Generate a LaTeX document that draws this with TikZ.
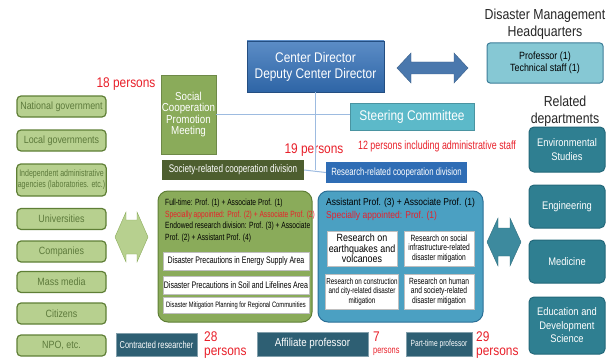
\documentclass[tikz,border=0pt]{standalone}
\usepackage{fontspec}
\setmainfont{Liberation Sans}[FakeStretch=0.85]
\newfontfamily\narrowfont{Liberation Sans}[FakeStretch=0.74]
\usepackage{tikz}
\definecolor{dirblue}{HTML}{3370B8}
\definecolor{lineblue}{HTML}{9DBBE0}
\definecolor{hqteal}{HTML}{86C8D4}
\definecolor{hqedge}{HTML}{3D7E99}
\definecolor{steerteal}{HTML}{5CB9C9}
\definecolor{deptteal}{HTML}{2F7F91}
\definecolor{deptedge}{HTML}{23687A}
\definecolor{olive}{HTML}{8AAB5A}
\definecolor{oliveedge}{HTML}{5F7F36}
\definecolor{darkolive}{HTML}{4D5E2F}
\definecolor{palegreen}{HTML}{B7D08F}
\definecolor{greytext}{HTML}{5D7A3C}
\definecolor{resblue}{HTML}{4BA0C2}
\definecolor{resedge}{HTML}{2B6F96}
\definecolor{divblue}{HTML}{2F6DB5}
\definecolor{botteal}{HTML}{2E5F73}
\definecolor{redtext}{HTML}{E8202A}
\definecolor{arrowblue}{HTML}{4A78AD}
\definecolor{arrowteal}{HTML}{3D8A9E}
\tikzset{
  font={\fontsize{9pt}{10}\selectfont}}

\begin{document}
\begin{tikzpicture}[x=1pt,y=1pt]
\tikzstyle{every node}+=[inner sep=1pt, align=center]
\tikzstyle{dirbox}=[top color=dirblue!80!white, bottom color=dirblue!90!black, draw=dirblue!70!black, text=white, minimum width=137, minimum height=51, font={\fontsize{14pt}{16}\selectfont}]
\tikzstyle{hqbox}=[fill=hqteal, draw=hqedge, line width=1pt, rounded corners=3, minimum width=116, minimum height=40, font={\fontsize{10.5pt}{12}\selectfont}]
\tikzstyle{titletxt}=[font={\fontsize{14.5pt}{17}\selectfont}, text=black!85]
\tikzstyle{deptbox}=[fill=deptteal, draw=deptedge, line width=1pt, rounded corners=5, text=white, minimum width=76, font={\fontsize{11pt}{13.5}\selectfont}]
\tikzstyle{steerbox}=[fill=steerteal, draw=steerteal!80!black, text=white, minimum width=124, minimum height=27, font={\fontsize{14pt}{16}\selectfont}]
\tikzstyle{meetbox}=[fill=olive, draw=olive!80!black, text=white, minimum width=51, minimum height=79, font={\fontsize{11.5pt}{11.5}\selectfont}]
\tikzstyle{socdivbox}=[fill=darkolive, text=white, minimum width=142, minimum height=20, font={\narrowfont\fontsize{11pt}{12}\selectfont}]
\tikzstyle{resdivbox}=[fill=divblue, text=white, minimum width=141, minimum height=21, font={\narrowfont\fontsize{10.5pt}{12}\selectfont}]
\tikzstyle{redtxt}=[text=redtext, font={\fontsize{14pt}{16}\selectfont}]
\tikzstyle{numtxt}=[text=redtext, anchor=west, inner sep=0pt]
\tikzstyle{orgbox}=[fill=palegreen, draw=oliveedge, line width=1.2pt, rounded corners=4, text=greytext, minimum width=89, minimum height=21, font={\fontsize{10.5pt}{12}\selectfont}]
\tikzstyle{greenarea}=[fill=olive, draw=oliveedge, line width=1pt, rounded corners=10, minimum width=154, minimum height=131]
\tikzstyle{bluearea}=[fill=resblue, draw=resedge, line width=1pt, rounded corners=10, minimum width=165, minimum height=131]
\tikzstyle{areabox}=[fill=white, draw=black!25, minimum width=146, minimum height=18, font={\narrowfont\fontsize{9.5pt}{11}\selectfont}]
\tikzstyle{resbox}=[fill=white, draw=black!25, minimum width=70, minimum height=35, font={\narrowfont\fontsize{9pt}{9.5}\selectfont}]
\tikzstyle{staffbox}=[fill=botteal, draw=botteal!60!white, text=white, minimum height=23, font={\narrowfont\fontsize{10pt}{12}\selectfont}]
\tikzstyle{link}=[lineblue, line width=1pt]
\useasboundingbox (0,0) rectangle (613,-361);

% top part
\node [dirbox] (dir) at (315.5,-66.5) {Center Director\\Deputy Center Director};
\node [titletxt] (hqtitle) at (545,-24) {Disaster Management\\Headquarters};
\node [hqbox] (hq) at (545,-63) {Professor (1)\\Technical staff (1)};
\filldraw [fill=arrowblue, draw=arrowblue!80!black] (397,-68) -- (411,-53) -- (411,-62) -- (454,-62) -- (454,-53) -- (468,-68) -- (454,-83) -- (454,-74) -- (411,-74) -- (411,-83) -- cycle;
\node [steerbox] (steer) at (412,-116.5) {Steering Committee};
\node [meetbox] (meet) at (188.5,-114.5) {Social\\Cooperation\\Promotion\\Meeting};
\node [redtxt] (meetnum) at (126,-84) {18 persons};
\node [redtxt] (divnum) at (314,-150) {19 persons};
\node [redtxt, font={\narrowfont\fontsize{12pt}{14}\selectfont}] (steernum) at (437,-146) {12 persons including administrative staff};
\node [socdivbox] (socdiv) at (233,-170) {Society-related cooperation division};
\node [resdivbox] (resdiv) at (396.5,-172.5) {Research-related cooperation division};
\draw [link] (dir.south) -- (dir.south |- socdiv.east);
\draw [link] (socdiv.east) -- (resdiv.west);
\draw [link] (meet.east) -- (meet.east -| steer.west);

% related departments
\node [titletxt] (reltitle) at (565,-111) {Related\\departments};
\node [deptbox, minimum height=45] (env) at (567,-149.5) {Environmental\\Studies};
\node [deptbox, minimum height=43] (eng) at (567,-206.5) {Engineering};
\node [deptbox, minimum height=43] (med) at (567,-261.5) {Medicine};
\node [deptbox, minimum height=57] (edu) at (567,-325.5) {Education and\\Development\\Science};

% outside partners
\node [orgbox] (natgov) at (61.5,-106.5) {National government};
\node [orgbox] (locgov) at (61.5,-140.5) {Local governments};
\node [orgbox, minimum height=32, font={\narrowfont\fontsize{9.5pt}{11}\selectfont}] (agency) at (61.5,-180) {Independent administrative\\agencies (laboratories. etc.)};
\node [orgbox] (univ) at (61.5,-219) {Universities};
\node [orgbox] (comp) at (61.5,-251.5) {Companies};
\node [orgbox] (media) at (61.5,-282) {Mass media};
\node [orgbox] (citizen) at (61.5,-313.5) {Citizens};
\node [orgbox] (npo) at (61.5,-345.5) {NPO, etc.};
\filldraw [fill=palegreen, draw=olive] (115,-237) -- (126,-212) -- (126,-220) -- (137,-220) -- (137,-212) -- (148,-237) -- (137,-262) -- (137,-254) -- (126,-254) -- (126,-262) -- cycle;

% society-related division
\node [greenarea] (socarea) at (235,-256.5) {};
\node [anchor=north west, align=left, inner sep=0pt, font={\narrowfont\fontsize{9pt}{11.5}\selectfont}] (socstaff) at (165,-199) {Full-time: Prof. (1) + Associate Prof. (1)\\
\textcolor{redtext}{Specially appointed: Prof. (2) + Associate Prof. (2)}\\
Endowed research division: Prof. (3) + Associate\\
Prof. (2) + Assistant Prof. (4)};
\node [areabox] (energy) at (236,-261) {Disaster Precautions in Energy Supply Area};
\node [areabox] (soil) at (236,-285) {Disaster Precautions in Soil and Lifelines Area};
\node [areabox, minimum height=16, font={\narrowfont\fontsize{7.8pt}{9}\selectfont}] (regional) at (236,-305) {Disaster Mitigation Planning for Regional Communities};

% research-related division
\node [bluearea] (resarea) at (400.5,-256.5) {};
\node [anchor=north west, align=left, inner sep=0pt, font={\fontsize{10pt}{13}\selectfont}] (resstaff) at (326,-198) {Assistant Prof. (3) + Associate Prof. (1)\\
\textcolor{redtext}{Specially appointed: Prof. (1)}};
\node [resbox, font={\fontsize{10.5pt}{10.5}\selectfont}] (quake) at (362,-248.5) {Research on\\earthquakes and\\volcanoes};
\node [resbox] (infra) at (439,-248.5) {Research on social\\infrastructure-related\\disaster mitigation};
\node [resbox, font={\narrowfont\fontsize{8.5pt}{9.5}\selectfont}] (city) at (362,-291.5) {Research on construction\\and city-related disaster\\mitigation};
\node [resbox] (human) at (439,-291.5) {Research on human\\and society-related\\disaster mitigation};
\filldraw [fill=arrowteal, draw=arrowteal!80!black] (487,-242) -- (498,-218) -- (498,-228) -- (510,-228) -- (510,-218) -- (521,-242) -- (510,-266) -- (510,-256) -- (498,-256) -- (498,-266) -- cycle;

% staff at the bottom
\node [staffbox, minimum width=81] (contract) at (156.5,-344.5) {Contracted researcher};
\node [staffbox, minimum width=111, minimum height=24, font={\fontsize{11.5pt}{13}\selectfont}] (affil) at (312.5,-344) {Affiliate professor};
\node [staffbox, minimum width=66, minimum height=24, font={\narrowfont\fontsize{9pt}{11}\selectfont}] (parttime) at (439,-344) {Part-time professor};
\node [numtxt, font={\fontsize{14pt}{14}\selectfont}] (contractnum) at (204,-337) {28};
\node [numtxt, font={\fontsize{14pt}{14}\selectfont}] (contractppl) at (204,-353) {persons};
\node [numtxt, font={\fontsize{14pt}{14}\selectfont}] (affilnum) at (373,-337) {7};
\node [numtxt, font={\narrowfont\fontsize{10pt}{12}\selectfont}] (affilppl) at (373,-352) {persons};
\node [numtxt, font={\fontsize{14pt}{14}\selectfont}] (partnum) at (476,-337) {29};
\node [numtxt, font={\fontsize{14pt}{14}\selectfont}] (partppl) at (476,-353) {persons};
\end{tikzpicture}
\end{document}
